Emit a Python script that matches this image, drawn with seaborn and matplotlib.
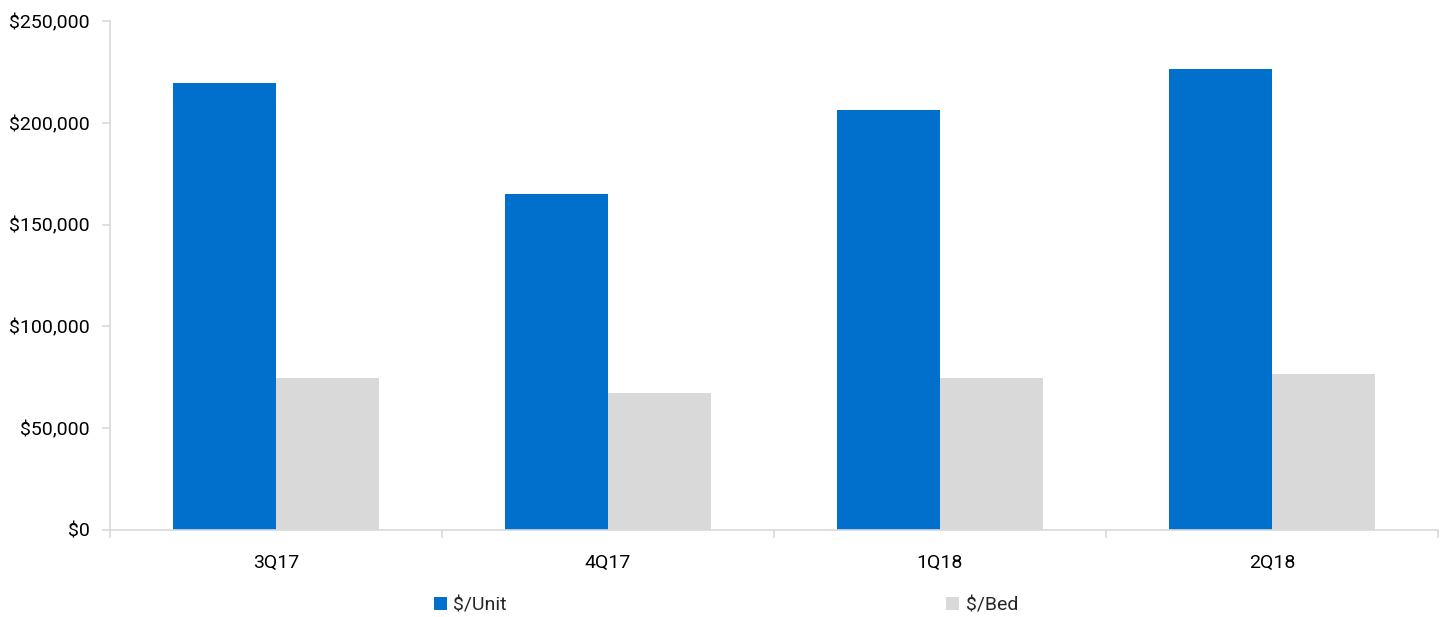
import matplotlib
matplotlib.use("Agg")
import matplotlib.pyplot as plt
import seaborn as sns
import pandas as pd
from matplotlib.ticker import FuncFormatter, MultipleLocator, FixedLocator
from matplotlib.patches import Patch

quarters = ["3Q17", "4Q17", "1Q18", "2Q18"]
unit_values = [219500, 165000, 206300, 226500]
bed_values = [74700, 67300, 74700, 76600]
series_names = ["$/Unit", "$/Bed"]
colors = ["#0070CC", "#D9D9D9"]

df = pd.DataFrame({
    "Quarter": quarters * 2,
    "Value": unit_values + bed_values,
    "Series": [series_names[0]] * 4 + [series_names[1]] * 4,
})

sns.set_theme(style="white")
plt.rcParams["font.family"] = ["Roboto", "DejaVu Sans"]

fig = plt.figure(figsize=(14.45, 6.17), dpi=100)
ax = fig.add_axes([110/1445, 1-530/617, (1438-110)/1445, (530-21)/617])

sns.barplot(data=df, x="Quarter", y="Value", hue="Series", order=quarters,
            hue_order=series_names, palette=colors, saturation=1, width=0.62,
            linewidth=0, ax=ax, legend=False)

ax.set_xlim(-0.5, 3.5)
ax.set_ylim(0, 250000)
ax.yaxis.set_major_locator(MultipleLocator(50000))
ax.yaxis.set_major_formatter(FuncFormatter(lambda v, p: "${:,.0f}".format(v)))
ax.set_xlabel("")
ax.set_ylabel("")

for s in ["top", "right"]:
    ax.spines[s].set_visible(False)
for s in ["left", "bottom"]:
    ax.spines[s].set_visible(True)
    ax.spines[s].set_color("#D9D9D9")
    ax.spines[s].set_linewidth(1.2)

ax.tick_params(axis="y", which="major", left=True, length=6, width=1.2,
               color="#D9D9D9", labelsize=14, labelcolor="black", pad=8.5)
ax.tick_params(axis="x", which="major", bottom=False, labelsize=14,
               labelcolor="black", pad=11.5)
ax.xaxis.set_minor_locator(FixedLocator([-0.5, 0.5, 1.5, 2.5, 3.5]))
ax.tick_params(axis="x", which="minor", bottom=True, length=6, width=1.2,
               color="#D9D9D9")

handles = [Patch(facecolor=c, edgecolor="none", label=n) for c, n in zip(colors, series_names)]
fig.legend(handles=handles, loc="center", bbox_to_anchor=(0.5025, 1-605/617), ncol=2,
           frameon=False, fontsize=14, handlelength=0.65, handleheight=0.65,
           handletextpad=0.35, columnspacing=22.6)

fig.savefig("out.png", dpi=100)
